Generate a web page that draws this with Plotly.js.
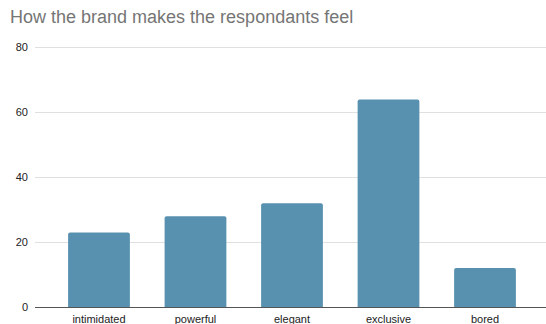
<!DOCTYPE html>
<html>
<head>
<meta charset="utf-8">
<script src="https://cdn.plot.ly/plotly-3.0.1.min.js"></script>
<style>html,body{margin:0;padding:0;background:#fff;}#chart{width:546px;height:324px;}</style>
</head>
<body>
<div id="chart"></div>
<script>
// Feelings reported by respondents
const feelings = ["intimidated", "powerful", "elegant", "exclusive", "bored"];
const counts = [23, 28, 32, 64, 12];
const yTicks = [0, 20, 40, 60, 80];

const trace = {
  type: "bar",
  x: feelings,
  y: counts,
  width: 0.64,
  marker: { color: "#5891b0", cornerradius: 2 },
  hoverinfo: "x+y"
};

const layout = {
  width: 546,
  height: 324,
  margin: { l: 35, r: 0, t: 44, b: 17 },
  paper_bgcolor: "#ffffff",
  plot_bgcolor: "#ffffff",
  showlegend: false,
  font: { family: "Liberation Sans, Arial, sans-serif", size: 11, color: "#222222" },
  title: {
    text: "How the brand makes the respondants feel",
    font: { family: "Liberation Sans, Arial, sans-serif", size: 18, color: "#757575" },
    x: 10 / 546, xref: "container", xanchor: "left",
    y: 1 - 17 / 324, yref: "container", yanchor: "middle"
  },
  xaxis: {
    type: "category",
    range: [-0.663, 4.632],
    showgrid: false,
    zeroline: false,
    showline: false,
    ticks: "",
    tickfont: { size: 11, color: "#222222" },
    ticklabelstandoff: 4
  },
  yaxis: {
    range: [0, 81.08],
    tickvals: yTicks,
    ticktext: yTicks.map(String),
    showgrid: true,
    gridcolor: "#e0e0e0",
    gridwidth: 1,
    zeroline: true,
    zerolinecolor: "#555555",
    zerolinewidth: 1,
    showline: false,
    ticks: "",
    ticklabelstandoff: 6,
    tickfont: { size: 11, color: "#222222" },
    fixedrange: true
  },
  bargap: 0.36
};

Plotly.newPlot("chart", [trace], layout, { displayModeBar: false, staticPlot: true });
</script>
</body>
</html>
